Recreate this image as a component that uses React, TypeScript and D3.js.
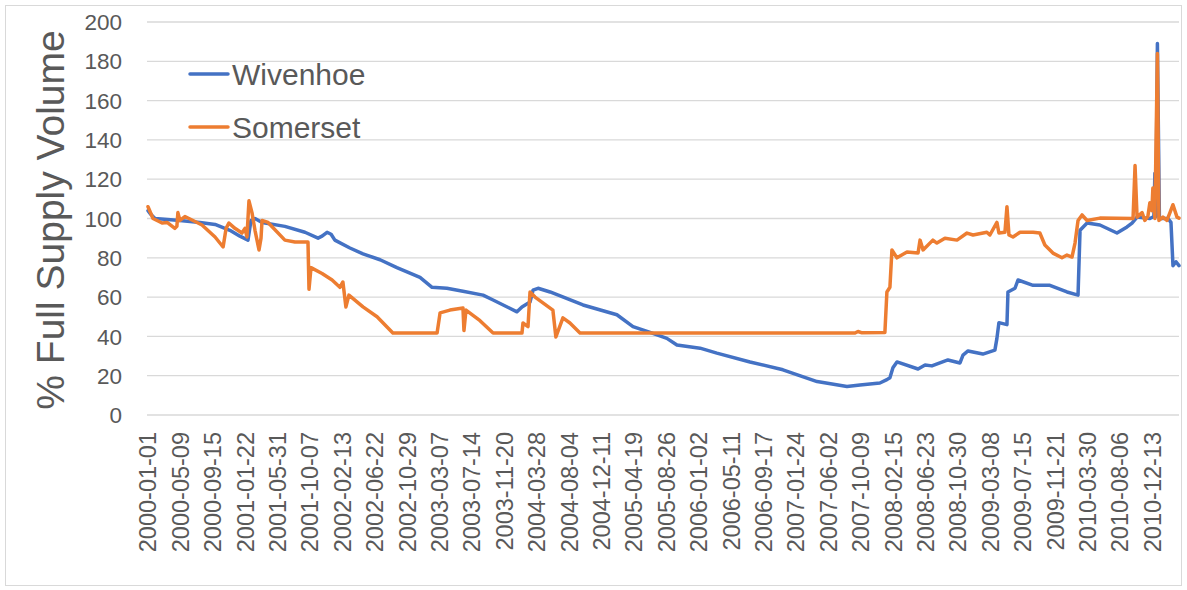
import React from 'react';
import * as d3 from 'd3';

// Storage levels, daily record starting 2000-01-01: [day index, % full supply volume]
const START = '2000-01-01';
const LAST_DAY = 4105;

const dateLabels = [
  '2000-01-01', '2000-05-09', '2000-09-15', '2001-01-22', '2001-05-31', '2001-10-07',
  '2002-02-13', '2002-06-22', '2002-10-29', '2003-03-07', '2003-07-14', '2003-11-20',
  '2004-03-28', '2004-08-04', '2004-12-11', '2005-04-19', '2005-08-26', '2006-01-02',
  '2006-05-11', '2006-09-17', '2007-01-24', '2007-06-02', '2007-10-09', '2008-02-15',
  '2008-06-23', '2008-10-30', '2009-03-08', '2009-07-15', '2009-11-21', '2010-03-30',
  '2010-08-06', '2010-12-13',
];

const yTicks = [0, 20, 40, 60, 80, 100, 120, 140, 160, 180, 200];

const wivenhoe: [number, number][] = [
  [0, 104], [12, 102], [28, 100], [127, 99], [207, 98], [267, 97], [326, 94], [366, 91],
  [398, 89], [410, 99], [426, 100], [454, 98], [545, 96], [625, 93], [677, 90], [693, 91],
  [713, 93], [729, 92], [744, 89], [804, 85], [856, 82], [924, 79], [991, 75], [1083, 70],
  [1131, 65], [1190, 64.5], [1254, 63], [1334, 61], [1374, 58.5], [1469, 52.5], [1489, 55],
  [1521, 57.5], [1533, 63.5], [1553, 64.5], [1601, 62.6], [1732, 56], [1867, 51], [1931, 45],
  [1999, 42], [2066, 39], [2106, 35.6], [2198, 34], [2265, 31.5], [2397, 27], [2528, 23],
  [2664, 17], [2783, 14.5], [2835, 15.3], [2914, 16.3], [2942, 18], [2954, 19], [2966, 24],
  [2982, 27], [3066, 23.4], [3094, 25.4], [3121, 25], [3153, 26.5], [3185, 28], [3233, 26.5],
  [3245, 30.5], [3265, 32.6], [3324, 31], [3372, 33], [3380, 39], [3388, 47], [3420, 46],
  [3424, 62.6], [3452, 64.5], [3464, 68.7], [3524, 66], [3591, 66], [3659, 62.6], [3703, 61],
  [3711, 94], [3739, 97.7], [3790, 96.7], [3858, 92.6], [3898, 95.7], [3918, 97.7],
  [3938, 100.7], [3989, 100], [4005, 101], [4009, 123], [4013, 101], [4019, 189], [4027, 100],
  [4061, 100], [4073, 98], [4081, 76], [4093, 78], [4105, 76],
];

const somerset: [number, number][] = [
  [0, 106], [20, 100], [56, 97.7], [76, 98], [107, 95], [115, 96], [119, 103], [127, 99],
  [147, 101], [215, 96.7], [267, 90.6], [299, 85.5], [311, 95], [322, 97.7], [346, 95],
  [374, 92.6], [386, 95], [394, 90.6], [402, 109], [414, 103], [426, 94], [442, 84], [450, 90],
  [454, 99], [478, 98], [545, 89], [585, 88], [637, 88], [641, 64], [649, 75], [693, 72],
  [733, 68.7], [764, 65], [776, 67.7], [788, 55], [800, 61], [856, 55], [912, 50], [975, 41.7],
  [1151, 41.7], [1163, 52], [1202, 53.4], [1254, 54.5], [1258, 43], [1266, 53.4], [1322, 48],
  [1374, 41.7], [1489, 41.7], [1493, 46.8], [1513, 45], [1521, 62.6], [1541, 60], [1612, 53.4],
  [1624, 39.7], [1652, 49.4], [1680, 46.8], [1720, 41.7], [2815, 41.7], [2827, 42.5],
  [2843, 41.8], [2934, 42], [2942, 62.6], [2954, 65], [2962, 84], [2982, 80], [3022, 83],
  [3066, 82.4], [3074, 89], [3086, 84], [3125, 89], [3141, 87.5], [3173, 90], [3221, 89],
  [3261, 92.6], [3285, 91.6], [3340, 93], [3352, 91.6], [3380, 98], [3388, 92.6], [3412, 93],
  [3420, 106], [3428, 91.6], [3444, 90.6], [3472, 93], [3524, 93], [3551, 92.6], [3571, 86.5],
  [3603, 82.4], [3639, 80], [3659, 81.4], [3679, 80.4], [3691, 87.5], [3703, 99], [3719, 101.8],
  [3739, 99], [3790, 100.2], [3922, 100], [3930, 127], [3938, 100.7], [3958, 103], [3969, 99],
  [3981, 101], [3989, 108], [3997, 104], [4001, 115.5], [4009, 100], [4019, 184], [4025, 99],
  [4041, 100.7], [4057, 99], [4069, 103], [4081, 107], [4097, 100.7], [4105, 100.2],
];

const series = [
  { name: 'Wivenhoe', color: '#4472C4', data: wivenhoe },
  { name: 'Somerset', color: '#ED7D31', data: somerset },
];

const W = 1187;
const H = 590;
const FONT = '"Liberation Sans", Arial, sans-serif';
const TEXT = '#595959';

export default function App() {
  const start = d3.utcParse('%Y-%m-%d')(START)!;
  const dayToDate = (d: number) => d3.utcDay.offset(start, d);

  const x = d3.scaleUtc()
    .domain([start, dayToDate(LAST_DAY)])
    .range([148, 1179]);
  const y = d3.scaleLinear().domain([0, 200]).range([415, 22]);

  const line = d3.line<[number, number]>()
    .x(d => x(dayToDate(d[0])))
    .y(d => y(d[1]));

  const parse = d3.utcParse('%Y-%m-%d');

  return (
    <svg width={W} height={H} style={{ position: 'absolute', left: 0, top: 0, background: '#fff' }}
      fontFamily={FONT}>
      <rect x={5.5} y={5.5} width={W - 11} height={H - 10} fill="#fff" stroke="#d9d9d9" />

      {/* gridlines + y labels */}
      {yTicks.map(t => (
        <g key={t}>
          <line x1={147} x2={1179} y1={y(t)} y2={y(t)} stroke="#d9d9d9" strokeWidth={1.3} />
          <text x={122} y={y(t)} dy="0.36em" textAnchor="end" fontSize={22.5} fill={TEXT}>{t}</text>
        </g>
      ))}

      {/* x labels */}
      {dateLabels.map(l => {
        const px = x(parse(l)!);
        return (
          <text key={l} transform={`translate(${px},432) rotate(-90)`} dy="0.36em"
            textAnchor="end" fontSize={23.5} fill={TEXT}>{l}</text>
        );
      })}

      {/* y axis title */}
      <text transform="translate(64,220) rotate(-90)" textAnchor="middle" fontSize={39} fill={TEXT}>
        % Full Supply Volume
      </text>

      {/* series */}
      {series.map(s => (
        <path key={s.name} d={line(s.data) ?? ''} fill="none" stroke={s.color}
          strokeWidth={3.5} strokeLinejoin="round" strokeLinecap="round" />
      ))}

      {/* legend */}
      {series.map((s, i) => (
        <g key={s.name} transform={`translate(190,${74 + i * 53})`}>
          <line x1={0} x2={38} y1={0} y2={0} stroke={s.color} strokeWidth={3.5} strokeLinecap="round" />
          <text x={42} y={0} dy="0.36em" fontSize={30} fill={TEXT}>{s.name}</text>
        </g>
      ))}
    </svg>
  );
}
